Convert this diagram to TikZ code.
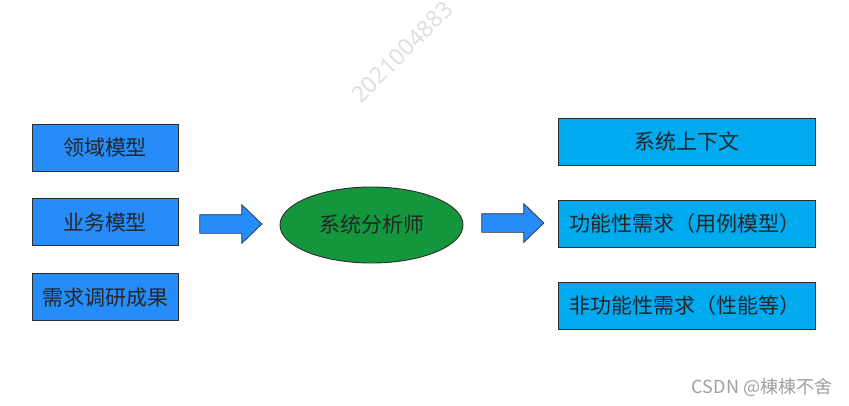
\documentclass[tikz,border=0pt]{standalone}
\usepackage{fontspec}
\newfontfamily\cjk{Noto Sans CJK SC}
\newfontfamily\markfont{Noto Sans}
\usepackage{tikz}
\usetikzlibrary{shapes.geometric,shapes.arrows,positioning}
\definecolor{inputblue}{RGB}{38, 140, 250}
\definecolor{outputblue}{RGB}{0, 170, 238}
\definecolor{rolegreen}{RGB}{20, 150, 60}
\definecolor{edgegray}{RGB}{45, 45, 45}

\begin{document}
\begin{tikzpicture}[
    x=1pt, y=-1pt,
    node distance=27pt,
    every node/.style={font=\cjk\fontsize{21}{24}\selectfont, text=black!85},
    base/.style={draw=edgegray, line width=0.9pt, minimum height=47pt, inner sep=0pt},
    inbox/.style={base, fill=inputblue, minimum width=146pt},
    outbox/.style={base, fill=outputblue, minimum width=257pt},
    outleft/.style={outbox, text width=234pt, align=left},
    role/.style={ellipse, draw=edgegray, line width=0.9pt, fill=rolegreen, minimum width=183pt, minimum height=76pt, inner sep=0pt},
    blockarrow/.style={single arrow, draw=edgegray, line width=0.7pt, fill=inputblue, text height=18pt, text depth=0pt, minimum width=38pt, minimum height=62pt, single arrow head extend=10pt, single arrow tip angle=88, inner sep=0pt}
]
\useasboundingbox (0,0) rectangle (849,405);

% Inputs
\node (domain) [inbox] at (105,147.5) {领域模型};
\node (business) [inbox, below=of domain] {业务模型};
\node (research) [inbox, below=of business] {需求调研成果};

% Analyst
\node (analyst) [role] at (371.5,225) {系统分析师};

% Outputs
\node (context) [outbox] at (686.5,141.5) {系统上下文};
\node (functional) [outleft] at (686.5,223.5) {功能性需求（用例模型）};
\node (nonfunctional) [outleft] at (686.5,306) {非功能性需求（性能等）};

% Arrows
\node (inarrow) [blockarrow] at (226,224) {};
\node (outarrow) [blockarrow] at (508,223) {};

% Watermarks
\node (stamp) [text=gray!25, font=\markfont\fontsize{23}{26}\selectfont, rotate=45] at (402,52) {2021004883};
\node (credit) [text=gray!75, font=\cjk\fontsize{18}{20}\selectfont] at (762,387) {CSDN @棟棟不舍};

\end{tikzpicture}
\end{document}
